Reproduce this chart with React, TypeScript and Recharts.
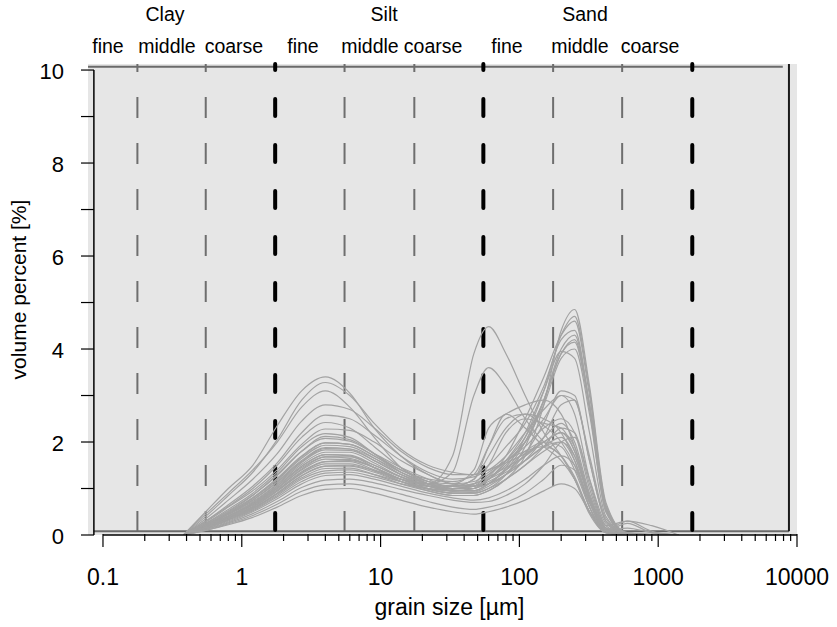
import React from 'react';
import { ComposedChart, Line, XAxis, YAxis, CartesianGrid, ReferenceLine, Label } from 'recharts';

// grain size classes (µm) shared by every sample
const GRAIN_SIZES = [0.38, 0.55, 0.8, 1.2, 1.8, 2.7, 4, 6, 9, 14, 22, 33, 47, 60, 80, 110, 150, 200, 250, 320, 420, 600, 900, 1400];

// volume percent per sample, one row per curve
const SAMPLES: number[][] = [
  [0, 0.5, 1.0, 1.5, 2.35, 3.1, 3.4, 3.05, 2.3, 1.7, 1.3, 1.1, 1.15, 1.35, 1.6, 1.8, 1.9, 1.7, 1.2, 0.5, 0.08, 0, 0, 0],
  [0, 0.4, 0.85, 1.35, 2.05, 2.9, 3.28, 3.0, 2.4, 1.85, 1.5, 1.35, 1.3, 1.4, 1.7, 2.2, 2.7, 3.0, 2.6, 1.2, 0.2, 0, 0, 0],
  [0, 0.45, 0.9, 1.4, 2.0, 2.75, 3.1, 2.75, 2.1, 1.45, 1.1, 0.95, 0.95, 1.1, 1.4, 1.8, 2.0, 1.9, 1.4, 0.6, 0.1, 0, 0, 0],
  [0, 0.35, 0.75, 1.2, 1.75, 2.45, 2.8, 2.7, 2.3, 1.8, 1.45, 1.3, 1.3, 1.5, 1.9, 2.4, 3.2, 4.2, 4.4, 2.8, 0.55, 0.02, 0, 0],
  [0, 0.3, 0.65, 1.05, 1.55, 2.2, 2.58, 2.5, 2.15, 1.7, 1.35, 1.2, 1.25, 1.4, 1.55, 1.75, 2.0, 2.2, 1.8, 0.8, 0.1, 0, 0, 0],
  [0, 0.3, 0.62, 1.0, 1.5, 2.1, 2.42, 2.3, 1.9, 1.45, 1.15, 1.05, 1.1, 1.3, 1.6, 2.1, 2.9, 3.9, 4.15, 2.7, 0.5, 0.02, 0, 0],
  [0, 0.28, 0.6, 0.95, 1.4, 1.95, 2.28, 2.25, 2.0, 1.6, 1.3, 1.1, 1.05, 1.1, 1.3, 1.6, 1.9, 2.0, 1.6, 0.7, 0.08, 0, 0, 0],
  [0, 0.25, 0.55, 0.9, 1.35, 1.9, 2.18, 2.1, 1.75, 1.4, 1.2, 1.15, 1.3, 1.9, 2.5, 2.6, 2.35, 2.0, 1.5, 0.6, 0.05, 0, 0, 0],
  [0, 0.25, 0.5, 0.85, 1.3, 1.8, 2.08, 2.02, 1.75, 1.45, 1.2, 1.0, 1.0, 1.2, 1.5, 2.0, 2.8, 3.8, 4.0, 2.6, 0.5, 0.02, 0, 0],
  [0, 0.22, 0.48, 0.8, 1.22, 1.7, 1.98, 1.95, 1.7, 1.4, 1.15, 1.05, 1.05, 1.15, 1.35, 1.6, 1.9, 2.1, 1.7, 0.75, 0.1, 0, 0, 0],
  [0, 0.22, 0.46, 0.78, 1.18, 1.65, 1.93, 1.9, 1.65, 1.3, 1.05, 0.95, 1.0, 1.25, 1.7, 2.5, 3.4, 4.3, 4.6, 3.0, 0.6, 0.02, 0, 0],
  [0, 0.2, 0.45, 0.75, 1.15, 1.6, 1.88, 1.85, 1.6, 1.3, 1.1, 1.05, 1.2, 1.7, 2.3, 2.6, 2.5, 2.2, 1.6, 0.6, 0.05, 0, 0, 0],
  [0, 0.2, 0.44, 0.72, 1.1, 1.56, 1.83, 1.82, 1.6, 1.3, 1.1, 1.0, 1.05, 1.2, 1.4, 1.7, 2.1, 2.4, 2.0, 0.9, 0.15, 0.02, 0, 0],
  [0, 0.2, 0.42, 0.7, 1.08, 1.52, 1.78, 1.78, 1.55, 1.25, 1.05, 0.95, 0.95, 1.1, 1.4, 2.0, 2.9, 3.9, 4.2, 2.8, 0.6, 0.05, 0, 0],
  [0, 0.18, 0.4, 0.68, 1.05, 1.48, 1.73, 1.72, 1.5, 1.25, 1.1, 1.35, 3.0, 3.6, 3.2, 2.5, 2.0, 1.7, 1.25, 0.5, 0.05, 0, 0, 0],
  [0, 0.18, 0.4, 0.66, 1.02, 1.45, 1.68, 1.65, 1.45, 1.2, 1.1, 1.7, 3.9, 4.48, 3.9, 3.0, 2.2, 1.7, 1.2, 0.45, 0.05, 0, 0, 0],
  [0, 0.17, 0.38, 0.64, 1.0, 1.4, 1.63, 1.62, 1.45, 1.2, 1.0, 0.9, 0.9, 1.0, 1.3, 1.9, 2.9, 4.0, 4.3, 2.8, 0.55, 0.03, 0, 0],
  [0, 0.17, 0.37, 0.62, 0.97, 1.36, 1.58, 1.58, 1.4, 1.2, 1.05, 1.0, 1.1, 1.5, 2.2, 2.5, 2.4, 2.3, 1.8, 0.8, 0.1, 0, 0, 0],
  [0, 0.16, 0.36, 0.6, 0.94, 1.32, 1.53, 1.53, 1.38, 1.15, 0.98, 0.9, 0.92, 1.05, 1.3, 1.75, 2.4, 3.1, 3.0, 1.6, 0.3, 0.02, 0, 0],
  [0, 0.15, 0.34, 0.58, 0.9, 1.28, 1.48, 1.48, 1.35, 1.15, 1.0, 0.95, 1.0, 1.2, 1.6, 2.2, 3.1, 3.95, 3.8, 2.2, 0.4, 0.02, 0, 0],
  [0, 0.15, 0.33, 0.56, 0.88, 1.23, 1.43, 1.44, 1.3, 1.1, 0.95, 0.85, 0.85, 0.95, 1.2, 1.5, 1.8, 2.0, 1.7, 0.8, 0.15, 0.05, 0.02, 0],
  [0, 0.14, 0.32, 0.54, 0.85, 1.2, 1.38, 1.4, 1.3, 1.15, 1.05, 1.05, 1.2, 1.9, 2.6, 2.3, 1.9, 1.6, 1.2, 0.5, 0.1, 0.15, 0.05, 0],
  [0, 0.14, 0.3, 0.52, 0.82, 1.15, 1.33, 1.35, 1.25, 1.1, 1.0, 0.95, 1.0, 1.1, 1.3, 1.6, 2.1, 2.8, 2.9, 1.6, 0.3, 0.02, 0, 0],
  [0, 0.13, 0.28, 0.5, 0.78, 1.1, 1.28, 1.3, 1.2, 1.05, 0.9, 0.8, 0.75, 0.8, 0.95, 1.2, 1.5, 1.7, 1.5, 0.7, 0.12, 0.3, 0.08, 0],
  [0, 0.12, 0.26, 0.46, 0.72, 1.02, 1.18, 1.2, 1.12, 0.98, 0.85, 0.75, 0.7, 0.72, 0.85, 1.1, 1.5, 2.0, 2.1, 1.2, 0.25, 0.02, 0, 0],
  [0, 0.1, 0.24, 0.42, 0.66, 0.94, 1.08, 1.1, 1.02, 0.88, 0.72, 0.6, 0.55, 0.6, 0.7, 0.9, 1.2, 1.5, 1.4, 0.7, 0.1, 0.25, 0.05, 0],
  [0, 0.1, 0.22, 0.38, 0.6, 0.85, 0.98, 1.0, 0.9, 0.75, 0.6, 0.5, 0.45, 0.5, 0.6, 0.75, 0.95, 1.1, 1.0, 0.5, 0.1, 0.02, 0, 0],
  [0, 0.18, 0.4, 0.68, 1.05, 1.48, 1.73, 1.7, 1.45, 1.15, 0.95, 0.85, 0.85, 0.95, 1.2, 1.7, 2.8, 4.4, 4.85, 3.2, 0.7, 0.03, 0, 0],
  [0, 0.22, 0.48, 0.8, 1.2, 1.68, 1.98, 1.95, 1.7, 1.35, 1.1, 0.95, 0.95, 1.1, 1.45, 2.1, 3.1, 4.3, 4.7, 3.1, 0.65, 0.03, 0, 0],
  [0, 0.2, 0.45, 0.75, 1.13, 1.58, 1.86, 1.85, 1.65, 1.35, 1.15, 1.1, 1.4, 2.3, 2.6, 2.8, 2.9, 2.6, 1.9, 0.8, 0.1, 0, 0, 0],
  [0, 0.16, 0.36, 0.6, 0.95, 1.34, 1.58, 1.6, 1.45, 1.2, 1.0, 0.9, 0.9, 1.0, 1.2, 1.5, 1.9, 2.3, 2.2, 1.1, 0.2, 0.3, 0.2, 0],
  [0, 0.24, 0.52, 0.86, 1.28, 1.8, 2.12, 2.05, 1.75, 1.35, 1.1, 1.0, 1.05, 1.2, 1.55, 2.0, 2.5, 3.0, 2.9, 1.7, 0.35, 0.02, 0, 0],
  [0, 0.17, 0.39, 0.65, 1.0, 1.42, 1.68, 1.68, 1.5, 1.25, 1.05, 0.98, 1.05, 1.3, 1.6, 1.9, 2.3, 2.5, 2.2, 1.0, 0.15, 0, 0, 0],
  [0, 0.15, 0.34, 0.57, 0.9, 1.27, 1.48, 1.5, 1.38, 1.2, 1.1, 1.05, 1.1, 1.25, 1.45, 1.7, 2.0, 2.2, 1.9, 0.85, 0.12, 0, 0, 0],
];

const X_MAJOR = [0.1, 1, 10, 100, 1000, 10000];
const X_MINOR_STEPS = [2, 3, 4, 5, 6, 7, 8, 9];
const Y_TICKS = [0, 1, 2, 3, 4, 5, 6, 7, 8, 9, 10];
const Y_LABELS = [0, 2, 4, 6, 8, 10];

// class boundaries as drawn (thin grey = sub-classes, thick black = main classes)
const SUB_BOUNDS = [0.177, 0.55, 5.5, 17.5, 175, 550];
const MAIN_BOUNDS = [1.74, 55, 1760];

const CLASS_NAMES = ['Clay', 'Silt', 'Sand'];
const CLASS_POS = [0.28, 10.6, 297];
const SUB_NAMES = ['fine', 'middle', 'coarse', 'fine', 'middle', 'coarse', 'fine', 'middle', 'coarse'];
const SUB_POS = [0.1086, 0.289, 0.878, 2.76, 8.39, 23.9, 81.4, 273, 873];

const X_DOMAIN = [0.078, 10000];
const Y_DOMAIN = [0, 10.13];
const FONT = 'Liberation Sans, Arial, sans-serif';

const data = GRAIN_SIZES.map((size, i) => {
  const row: Record<string, number> = { size };
  SAMPLES.forEach((s, j) => {
    row['s' + j] = s[i];
  });
  return row;
});

const xTicks = [
  ...X_MAJOR,
  ...X_MAJOR.slice(0, -1).flatMap((m) => X_MINOR_STEPS.map((k) => m * k)),
];

function BottomTick(props: any) {
  const { x, y, payload } = props;
  const major = X_MAJOR.includes(payload.value);
  return (
    <g>
      <line x1={x} x2={x} y1={y - 1} y2={y + (major ? 12 : 6)} stroke="#000" strokeWidth={1.2} />
      {major && (
        <text x={x} y={y + 42} textAnchor="middle" dominantBaseline="central" fontSize={23} fontFamily={FONT} fill="#000">
          {String(payload.value)}
        </text>
      )}
    </g>
  );
}

function LeftTick(props: any) {
  const { x, y, payload } = props;
  return (
    <g>
      <line x1={x - 7} x2={x + 6} y1={y} y2={y} stroke="#000" strokeWidth={1.2} />
      {Y_LABELS.includes(payload.value) && (
        <text x={x - 24} y={y + 1} textAnchor="end" dominantBaseline="central" fontSize={22} fontFamily={FONT} fill="#000">
          {payload.value}
        </text>
      )}
    </g>
  );
}

function SubTick(props: any) {
  const { x, payload } = props;
  const name = SUB_NAMES[SUB_POS.indexOf(payload.value)];
  return (
    <text x={x} y={53} textAnchor="middle" fontSize={19.5} fontFamily={FONT} fill="#000">
      {name}
    </text>
  );
}

function ClassTick(props: any) {
  const { x, payload } = props;
  const name = CLASS_NAMES[CLASS_POS.indexOf(payload.value)];
  return (
    <text x={x} y={21} textAnchor="middle" fontSize={19.5} fontFamily={FONT} fill="#000">
      {name}
    </text>
  );
}

function YTitle(props: any) {
  const { viewBox } = props;
  const cx = viewBox.x + 18;
  const cy = viewBox.y + viewBox.height / 2 - 10;
  return (
    <text x={cx} y={cy} transform={`rotate(-90 ${cx} ${cy})`} textAnchor="middle" dominantBaseline="central" fontSize={21} fontFamily={FONT} fill="#000">
      volume percent [%]
    </text>
  );
}

function XTitle(props: any) {
  const { viewBox } = props;
  const cx = viewBox.x + viewBox.width / 2 + 7;
  return (
    <text x={cx} y={viewBox.y + 72} textAnchor="middle" dominantBaseline="central" fontSize={23} fontFamily={FONT} fill="#000">
      grain size [µm]
    </text>
  );
}

export default function App() {
  return (
    <div style={{ width: 837, height: 627 }}>
      <style>{'body{margin:0}'}</style>
      <ComposedChart width={837} height={627} data={data} margin={{ top: 0, right: 40, bottom: 0, left: 0 }}>
        <CartesianGrid fill="#e6e6e6" horizontal={false} vertical={false} xAxisId="bottom" />
        <XAxis
          xAxisId="bottom"
          dataKey="size"
          type="number"
          scale="log"
          domain={X_DOMAIN}
          allowDataOverflow
          ticks={xTicks}
          interval={0}
          tick={<BottomTick />}
          tickLine={false}
          axisLine={false}
          tickSize={0}
          tickMargin={0}
          height={92}
        >
          <Label content={<XTitle />} />
        </XAxis>
        <XAxis
          xAxisId="sub"
          orientation="top"
          dataKey="size"
          type="number"
          scale="log"
          domain={X_DOMAIN}
          allowDataOverflow
          ticks={SUB_POS}
          interval={0}
          tick={<SubTick />}
          tickLine={false}
          axisLine={false}
          tickSize={0}
          height={32}
        />
        <XAxis
          xAxisId="cls"
          orientation="top"
          dataKey="size"
          type="number"
          scale="log"
          domain={X_DOMAIN}
          allowDataOverflow
          ticks={CLASS_POS}
          interval={0}
          tick={<ClassTick />}
          tickLine={false}
          axisLine={false}
          tickSize={0}
          height={32}
        />
        <YAxis
          type="number"
          domain={Y_DOMAIN}
          allowDataOverflow
          ticks={Y_TICKS}
          interval={0}
          tick={<LeftTick />}
          tickLine={false}
          axisLine={false}
          tickSize={0}
          tickMargin={0}
          width={88}
        >
          <Label content={<YTitle />} />
        </YAxis>

        {/* frame lines */}
        <ReferenceLine xAxisId="bottom" ifOverflow="visible" segment={[{ x: 0.078, y: 10.07 }, { x: 7900, y: 10.07 }]} stroke="#6a6a6a" strokeWidth={2} />
        <ReferenceLine xAxisId="bottom" ifOverflow="visible" segment={[{ x: 0.086, y: 0.08 }, { x: 8750, y: 0.08 }]} stroke="#6a6a6a" strokeWidth={2} />
        <ReferenceLine xAxisId="bottom" ifOverflow="visible" segment={[{ x: 8750, y: 0.08 }, { x: 8750, y: 10.13 }]} stroke="#1a1a1a" strokeWidth={2} />

        {SUB_BOUNDS.map((b) => (
          <ReferenceLine
            key={'sb' + b}
            xAxisId="bottom"
            ifOverflow="visible"
            segment={[{ x: b, y: 10.13 }, { x: b, y: 0.08 }]}
            stroke="#6e6e6e"
            strokeWidth={2}
            strokeDasharray="21 25"
            strokeDashoffset={13}
          />
        ))}
        {MAIN_BOUNDS.map((b) => (
          <ReferenceLine
            key={'mb' + b}
            xAxisId="bottom"
            ifOverflow="visible"
            segment={[{ x: b, y: 10.13 }, { x: b, y: 0.08 }]}
            stroke="#000"
            strokeWidth={4}
            strokeLinecap="round"
            strokeDasharray="17 29"
            strokeDashoffset={11}
          />
        ))}

        {SAMPLES.map((_, j) => (
          <Line
            key={j}
            xAxisId="bottom"
            dataKey={'s' + j}
            type="monotone"
            stroke="#a3a3a3"
            strokeWidth={1.2}
            dot={false}
            activeDot={false}
            isAnimationActive={false}
          />
        ))}

        {/* axis lines */}
        <ReferenceLine xAxisId="bottom" ifOverflow="visible" segment={[{ x: 0.086, y: 0 }, { x: 0.086, y: 10 }]} stroke="#000" strokeWidth={1.5} />
        <ReferenceLine xAxisId="bottom" ifOverflow="visible" segment={[{ x: 0.1, y: 0 }, { x: 10000, y: 0 }]} stroke="#000" strokeWidth={1.5} />
      </ComposedChart>
    </div>
  );
}
